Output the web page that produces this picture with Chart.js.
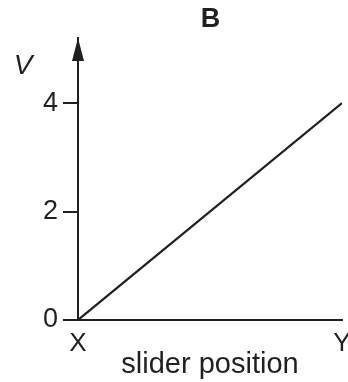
<!DOCTYPE html>
<html>
<head>
<meta charset="utf-8">
<script src="https://cdn.jsdelivr.net/npm/chart.js@4.4.1/dist/chart.umd.min.js"></script>
<style>
  html, body { margin: 0; padding: 0; background: #fff; }
  #wrap { width: 348px; height: 382px; position: relative; }
</style>
</head>
<body>
<div id="wrap"><canvas id="graph"></canvas></div>
<script>
// slider position (X = 0, Y = 1) against V
const positions = [0, 1];
const voltages = [0, 4];
const xTickValues = [0, 1];
const xTickLabels = ['X', 'Y'];
const yTickValues = [0, 2, 4];

const ink = '#231f20';
const fontFamily = '"Liberation Sans", Arial, Helvetica, sans-serif';

// arrow head on top of V axis, italic V label and the graph letter
const axisExtras = {
    id: 'axisExtras',
    afterDraw(chart) {
        const { ctx, chartArea } = chart;
        const x = chart.scales.y.left + chart.scales.y.width;
        const top = chartArea.top;
        ctx.save();
        ctx.fillStyle = ink;
        ctx.beginPath();
        ctx.moveTo(x, top);
        ctx.lineTo(x - 6, top + 23);
        ctx.lineTo(x + 6, top + 23);
        ctx.closePath();
        ctx.fill();

        ctx.textAlign = 'center';
        ctx.textBaseline = 'alphabetic';
        ctx.font = 'italic 28px ' + fontFamily;
        ctx.fillText('V', 23, 74);

        ctx.font = 'bold 27px ' + fontFamily;
        ctx.fillText('B', 210.5, 27);
        ctx.restore();
    }
};

const points = positions.map((p, i) => ({ x: p, y: voltages[i] }));

new Chart(document.getElementById('graph'), {
    type: 'line',
    data: {
        datasets: [{
            data: points,
            borderColor: ink,
            borderWidth: 2.2,
            pointRadius: 0,
            tension: 0
        }]
    },
    options: {
        responsive: true,
        maintainAspectRatio: false,
        animation: false,
        layout: { padding: { top: 38 } },
        plugins: {
            legend: { display: false },
            tooltip: { enabled: false },
            title: { display: false }
        },
        scales: {
            x: {
                type: 'linear',
                min: 0,
                max: 1,
                afterBuildTicks: (scale) => {
                    scale.ticks = xTickValues.map(v => ({ value: v }));
                },
                afterFit: (scale) => {
                    scale.height = 62;
                    scale.paddingRight = 6;
                },
                ticks: {
                    color: ink,
                    font: { family: fontFamily, size: 26 },
                    padding: 8,
                    maxRotation: 0,
                    callback: (v) => xTickLabels[xTickValues.indexOf(v)]
                },
                grid: { display: false, drawTicks: false },
                border: { display: true, color: ink, width: 2 },
                title: {
                    display: true,
                    text: 'slider position',
                    color: ink,
                    font: { family: fontFamily, size: 29 },
                    padding: { top: 0, bottom: 0 }
                }
            },
            y: {
                min: 0,
                max: 5.2,
                afterBuildTicks: (scale) => {
                    scale.ticks = yTickValues.map(v => ({ value: v }));
                },
                afterFit: (scale) => {
                    scale.width = 78;
                },
                ticks: {
                    color: ink,
                    font: { family: fontFamily, size: 27 },
                    padding: 5
                },
                grid: {
                    drawOnChartArea: false,
                    drawTicks: true,
                    tickLength: 15,
                    color: ink,
                    lineWidth: 2
                },
                border: { display: true, color: ink, width: 2 }
            }
        }
    },
    plugins: [axisExtras]
});
</script>
</body>
</html>
